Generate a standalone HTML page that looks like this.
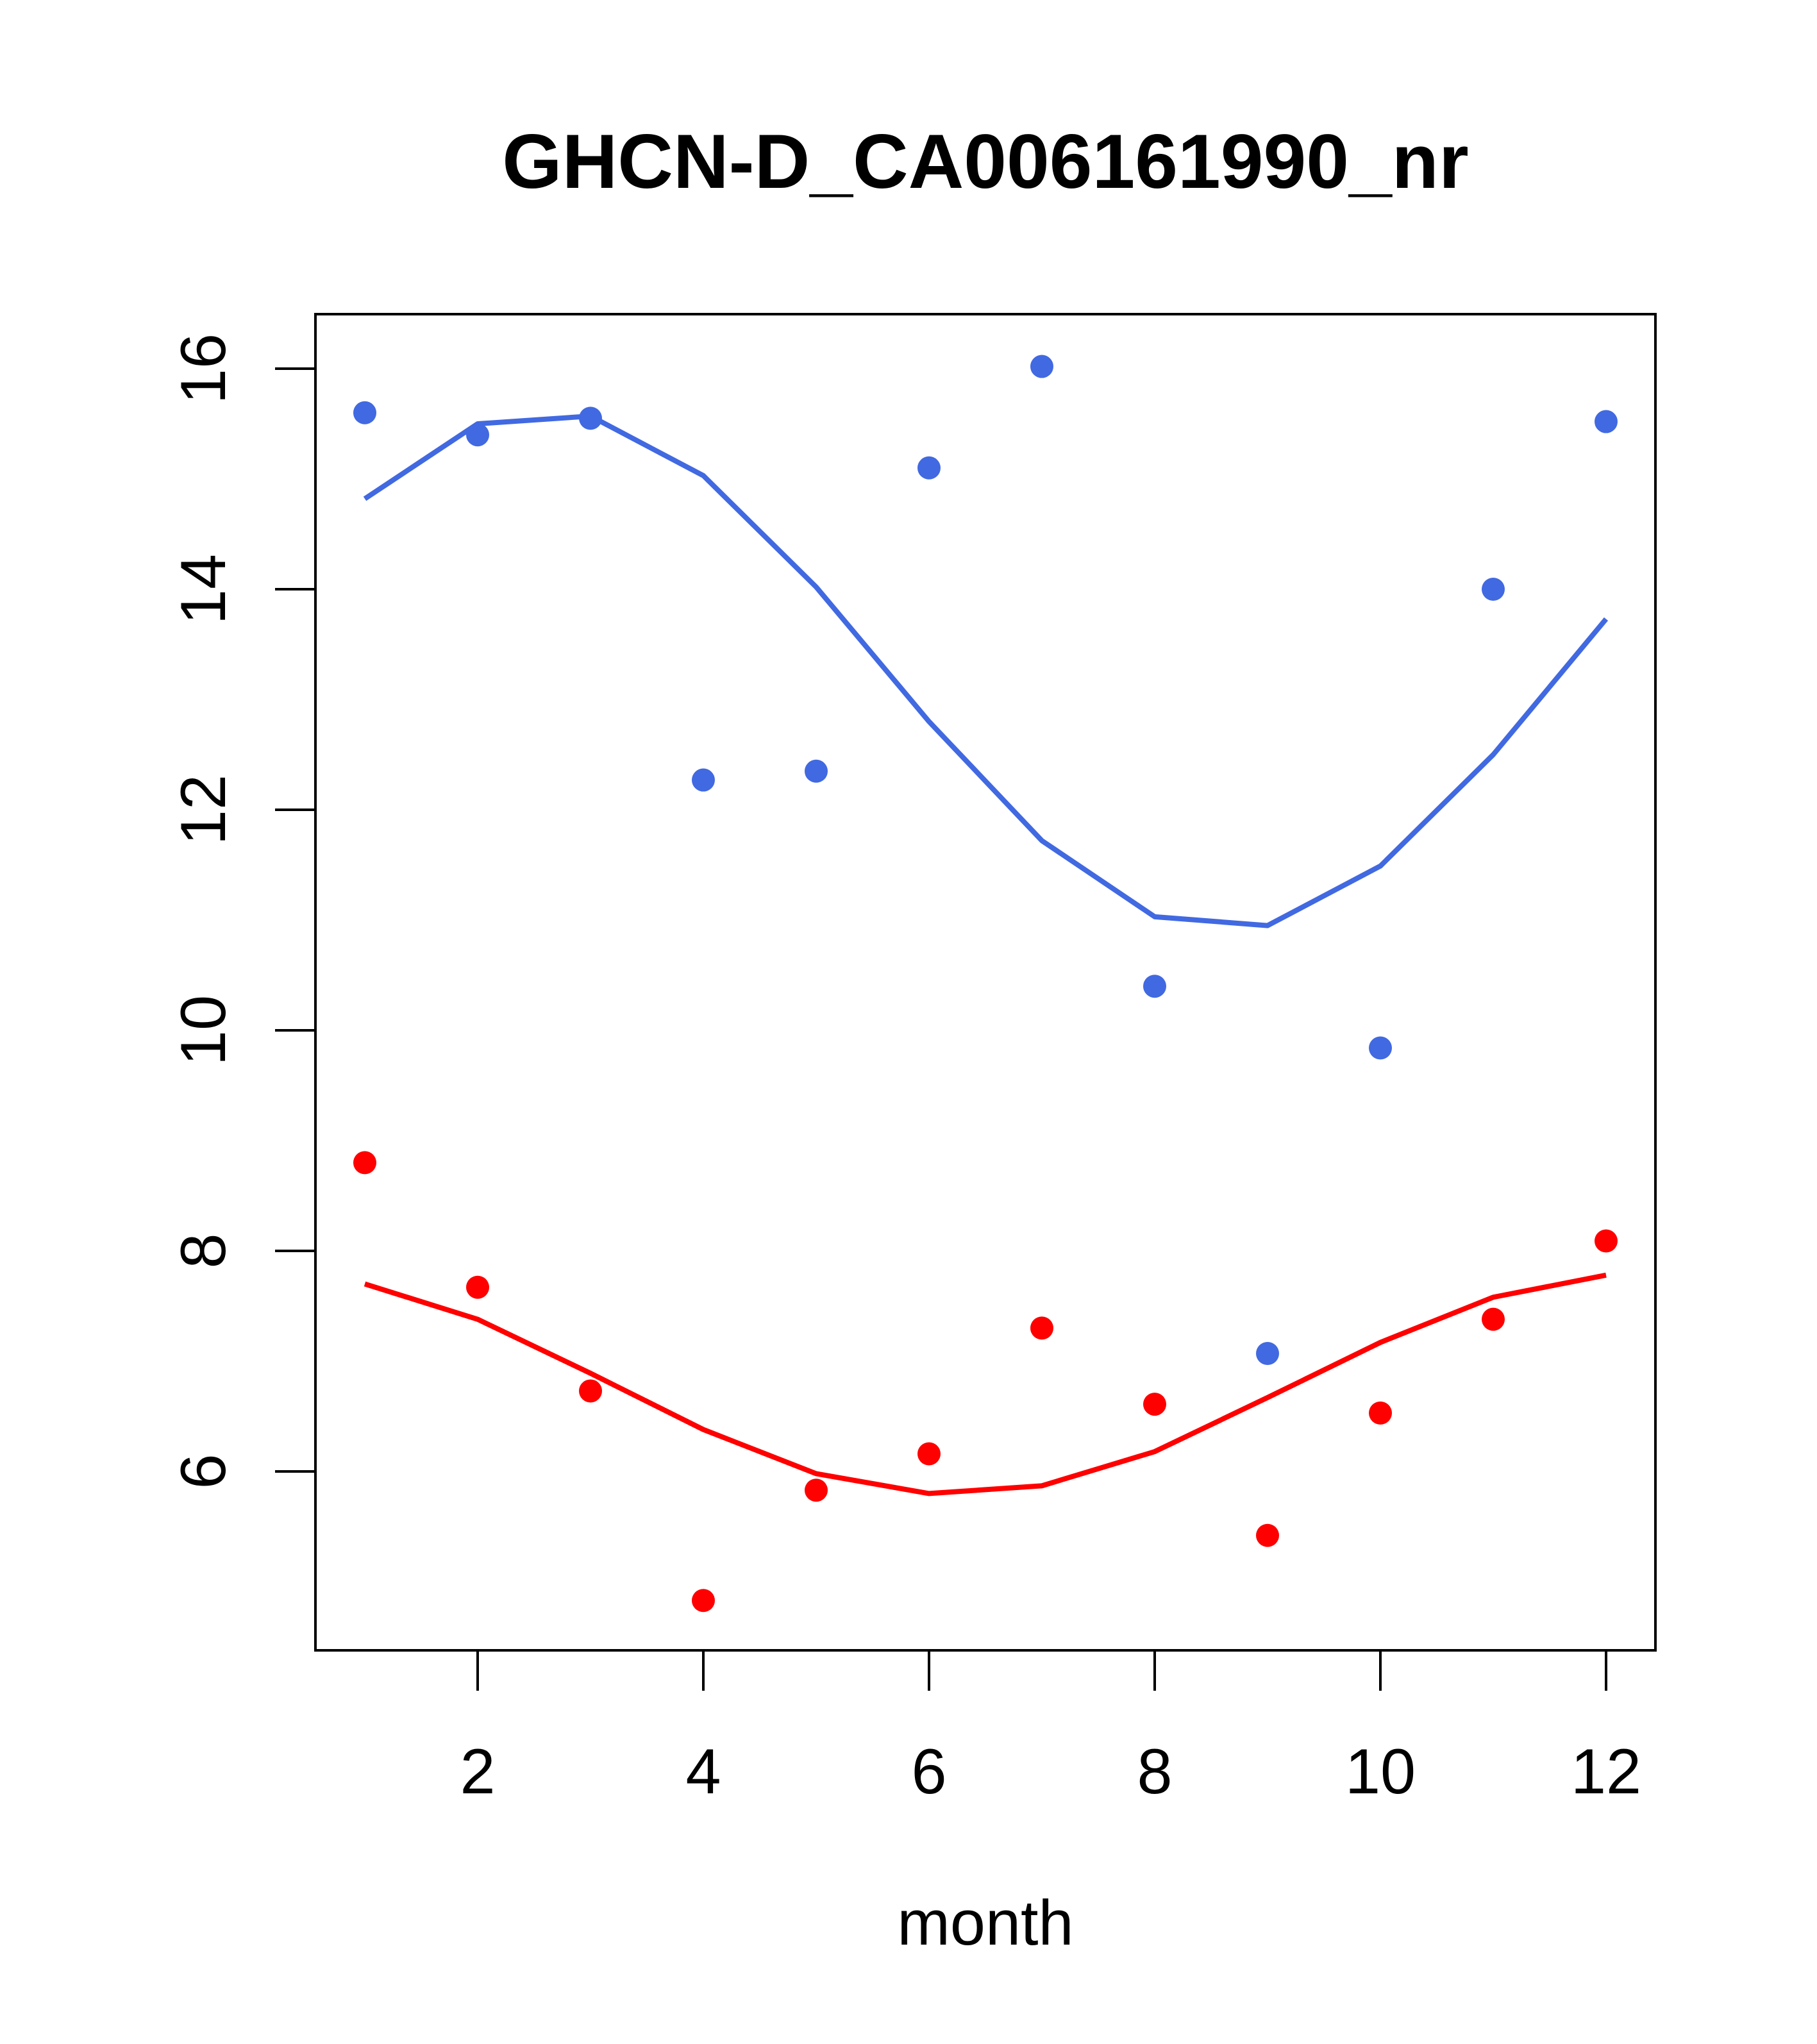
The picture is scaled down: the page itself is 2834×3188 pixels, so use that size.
<!DOCTYPE html>
<html><head><meta charset="utf-8"><style>
html,body{margin:0;padding:0;background:#fff;}
svg{display:block;font-family:"Liberation Sans",Arial,sans-serif;}
</style></head><body>
<svg id="chart" width="2834" height="3188" viewBox="0 0 2834 3188" xmlns="http://www.w3.org/2000/svg">
<rect width="2834" height="3188" fill="#fff"/>
<text x="1537" y="293" text-anchor="middle" font-size="120" font-weight="bold">GHCN-D_CA006161990_nr</text>
<rect x="492" y="490" width="2090" height="2084" fill="none" stroke="#000" stroke-width="4"/>
<text x="1537" y="3033" text-anchor="middle" font-size="99">month</text>
<g id="axes"></g>
<g id="marks"></g>
</svg>
<script>
const months = [1,2,3,4,5,6,7,8,9,10,11,12];
const bluePoints = [15.6,15.4,15.55,12.27,12.35,15.1,16.02,10.4,7.07,9.84,14.0,15.52];
const blueLine = [14.82,15.5,15.57,15.03,14.02,12.8,11.72,11.03,10.95,11.49,12.5,13.73];
const redPoints = [8.8,7.67,6.73,4.83,5.83,6.16,7.3,6.61,5.42,6.53,7.38,8.09];
const redLine = [7.7,7.38,6.89,6.38,5.98,5.8,5.87,6.18,6.67,7.17,7.58,7.78];
const xTicks = [2,4,6,8,10,12];
const yTicks = [6,8,10,12,14,16];

const NS = "http://www.w3.org/2000/svg";
function xs(m){ return 569 + (m-1)*(2505-569)/11; }
function ys(v){ return 2295 - (v-6)*(2295-575)/10; }
function mk(tag, attrs, parent){
  const e = document.createElementNS(NS, tag);
  for (const k in attrs) e.setAttribute(k, attrs[k]);
  parent.appendChild(e); return e;
}
const axes = document.getElementById('axes');
const marks = document.getElementById('marks');

const xa = mk('line',{x1:xs(2),x2:xs(12),y1:2574,y2:2574,stroke:'#000','stroke-width':4},axes);


xTicks.forEach(t=>{
  const l = mk('line',{x1:xs(t),x2:xs(t),y1:2574,y2:2637,stroke:'#000','stroke-width':4},axes);
  
  
  const tx = mk('text',{x:xs(t),y:2797,'text-anchor':'middle','font-size':99},axes);
  tx.textContent = t;
  
  
});
const ya = mk('line',{x1:492,x2:492,y1:ys(6),y2:ys(16),stroke:'#000','stroke-width':4},axes);


yTicks.forEach(t=>{
  const l = mk('line',{x1:429,x2:492,y1:ys(t),y2:ys(t),stroke:'#000','stroke-width':4},axes);
  
  
  const tx = mk('text',{x:0,y:0,'text-anchor':'middle','font-size':99,transform:`translate(351,${ys(t)}) rotate(-90)`},axes);
  tx.textContent = t;
  
  
});

function drawLine(vals, color, name){
  const p = mk('polyline',{points:vals.map((v,i)=>xs(months[i])+','+ys(v)).join(' '),fill:'none',stroke:color,'stroke-width':8,'stroke-linejoin':'round'},marks);
  
  
}
function drawPts(vals, color, name){
  vals.forEach((v,i)=>{
    const c = mk('circle',{cx:xs(months[i]),cy:ys(v),r:18,fill:color},marks);
    
    
  });
}
drawLine(blueLine,'#4169E1','blue-smooth-line');
drawLine(redLine,'#FF0000','red-smooth-line');
drawPts(bluePoints,'#4169E1','blue-point');
drawPts(redPoints,'#FF0000','red-point');
</script>
</body></html>
